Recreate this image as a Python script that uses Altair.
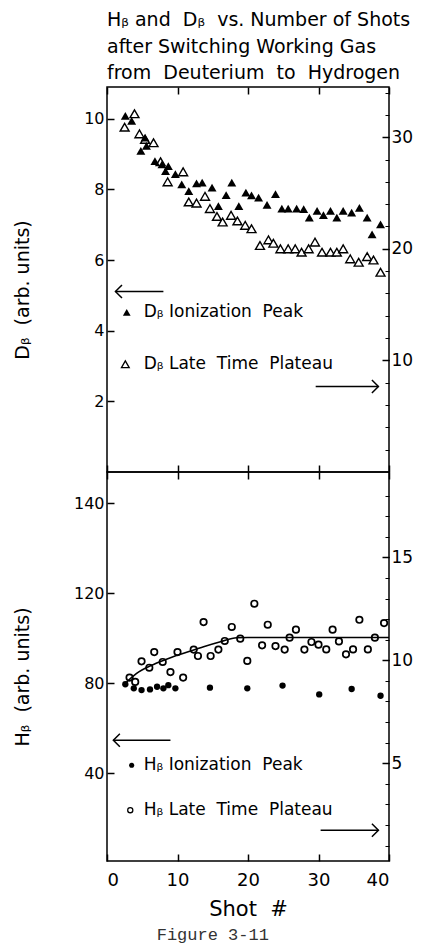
import altair as alt
import pandas as pd

# ---------------- D-beta panel ----------------
# ionization peak (left axis units)
d_peak_shot = [2.6, 3.5, 4.8, 5.4, 5.6, 6.8, 7.8, 8.3, 8.7, 9.7,
               10.6, 11.6, 12.7, 13.5, 14.9, 15.8, 16.9, 17.7, 18.7, 19.7,
               20.5, 21.5, 22.7, 23.9, 24.8, 25.7, 26.9, 27.9, 28.7, 29.8,
               30.7, 31.7, 32.6, 33.5, 34.7, 35.8, 36.9, 37.6, 38.8]
d_peak_val = [10.08, 9.94, 9.09, 9.47, 9.23, 8.80, 8.71, 8.52, 8.66, 8.43,
              8.14, 7.95, 8.17, 8.19, 8.05, 7.53, 7.84, 8.19, 7.53, 7.91,
              7.83, 7.77, 7.56, 7.87, 7.46, 7.46, 7.46, 7.44, 7.20, 7.39,
              7.27, 7.39, 7.20, 7.39, 7.34, 7.48, 7.20, 6.73, 7.01]
# late time plateau (right axis units)
d_plat_shot = [2.5, 3.9, 4.6, 5.4, 6.6, 7.6, 8.6, 10.8, 11.6, 12.7,
               13.9, 14.6, 15.6, 16.4, 17.6, 18.5, 19.6, 20.5, 21.7, 22.9,
               23.6, 24.6, 25.7, 26.7, 27.6, 28.6, 29.5, 30.5, 31.7, 32.6,
               33.5, 34.5, 35.7, 36.9, 37.8, 38.8]
d_plat_val = [30.9, 32.1, 30.3, 29.8, 29.5, 27.8, 26.0, 26.9, 24.2, 24.1,
              24.7, 23.6, 22.9, 22.4, 23.0, 22.5, 22.1, 21.8, 20.3, 20.8,
              20.5, 20.0, 20.0, 20.0, 19.7, 20.0, 20.6, 19.7, 19.7, 19.7,
              20.0, 19.1, 18.8, 19.3, 19.0, 17.9]

# ---------------- H-beta panel ----------------
h_peak_shot = [2.6, 3.8, 4.9, 6.1, 7.1, 8.0, 8.7, 9.7, 14.6, 19.9, 24.9, 30.1, 34.7, 38.8]
h_peak_val = [79.6, 77.8, 77.0, 77.3, 78.5, 77.8, 79.2, 77.8, 78.1, 77.8, 79.0, 75.1, 77.5, 74.5]
h_plat_shot = [3.2, 4.0, 4.9, 6.0, 6.7, 7.9, 9.0, 10.0, 10.8, 12.3,
               12.9, 13.7, 14.7, 15.8, 16.7, 17.7, 18.9, 19.9, 20.9, 22.0,
               22.8, 23.9, 25.2, 25.9, 26.8, 28.0, 29.0, 30.0, 31.1, 32.0,
               32.9, 33.9, 34.9, 35.8, 37.0, 38.0, 39.3]
h_plat_val = [9.16, 8.95, 9.95, 9.64, 10.40, 9.92, 9.43, 10.40, 9.16, 10.52,
              10.21, 11.86, 10.21, 10.52, 10.94, 11.62, 11.05, 9.97, 12.75, 10.73,
              11.73, 10.69, 10.52, 11.10, 11.49, 10.52, 10.89, 10.76, 10.53, 11.49,
              10.92, 10.29, 10.53, 11.97, 10.53, 11.10, 11.81]
# hand-drawn trend through the plateau points (left axis units)
h_fit_shot = [2.6, 4.2, 6.6, 9.0, 11.3, 13.7, 16.1, 18.4, 20.0, 40.0]
h_fit_val = [80.0, 84.4, 88.4, 91.4, 93.8, 96.3, 98.5, 100.3, 100.4, 100.4]

# axis ticks
x_ticks = [0, 10, 20, 30, 40]
d_left_ticks = [2, 4, 6, 8, 10]
d_right_ticks = [10, 20, 30]
d_right_minor = list(range(2, 35, 2))
h_left_ticks = [40, 80, 120, 160]
h_right_ticks = [5, 10, 15]
h_right_minor = list(range(1, 19))

FONT = "DejaVu Sans"
INK = "black"
SP = "\u00a0"   # hard space, kept by SVG text
PLOT_W = 282
TOP_H = 385
BOT_H = 389

D_LEFT = [0, 10.9]
D_RIGHT = [0, 34.5]
H_LEFT = [1, 174]
H_RIGHT = [0.25, 19.15]


def sc(domain):
    return alt.Scale(domain=domain, nice=False, zero=False)


X_SCALE = sc([0, 40])


def frame_x_axis(orient, labelled=False):
    kw = dict(orient=orient, values=x_ticks, offset=-7, tickSize=7, tickWidth=1.5,
              tickColor=INK, domain=False, grid=False, labels=labelled)
    if labelled:
        kw.update(labelFont=FONT, labelFontSize=18, labelColor=INK, labelPadding=10,
                  title="Shot" + SP * 2 + "#", titleFont=FONT, titleFontSize=21,
                  titleFontWeight="normal", titleColor=INK, titlePadding=9)
    else:
        kw.update(title=None)
    return alt.Axis(**kw)


def left_axis(values, title, h, expr=None):
    kw = dict(orient="left", values=values, offset=-7, tickSize=7, tickWidth=1.5,
              tickColor=INK, domain=False, grid=False, labelFont=FONT,
              labelFontSize=16, labelColor=INK, labelPadding=3,
              title=title, titleFont=FONT, titleFontSize=19,
              titleFontWeight="normal", titleColor=INK,
              titleX=-82, titleY=h / 2 + 10)
    if expr:
        kw["labelExpr"] = expr
    return alt.Axis(**kw)


def right_axis(values):
    return alt.Axis(orient="right", values=values, offset=-7, tickSize=7,
                    tickWidth=1.5, tickColor=INK, domain=False, grid=False,
                    labelFont=FONT, labelFontSize=17, labelColor=INK,
                    labelPadding=2, title=None)


def minor_axis(values):
    return alt.Axis(orient="right", values=values, offset=-4, tickSize=4,
                    tickWidth=1, tickColor=INK, domain=False, grid=False,
                    labels=False, title=None)


def arrow_layers(df, dom):
    y = alt.Y("y:Q", scale=sc(dom), axis=None)
    shaft = alt.Chart(df).mark_rule(color=INK, strokeWidth=1.5).encode(
        x=alt.X("x0:Q", scale=X_SCALE, axis=None), x2="x1:Q", y=y)
    head = alt.Chart(df).mark_point(filled=False, color=INK, strokeWidth=1.5,
                                    size=170, opacity=1).encode(
        x=alt.X("x0:Q", scale=X_SCALE, axis=None), y=y,
        shape=alt.Shape("head:N", scale=None))
    return [shaft, head]


def legend_layers(df, dom):
    y = alt.Y("y:Q", scale=sc(dom), axis=None)
    text = alt.Chart(df).mark_text(align="left", baseline="middle", font=FONT,
                                   fontSize=17, color=INK).encode(
        x=alt.X("tx:Q", scale=X_SCALE, axis=None), y=y, text="label:N")
    return [text]


def spaced(*words):
    return (SP * 2).join(words)


# ---------------- top panel ----------------
d_peak = pd.DataFrame({"shot": d_peak_shot, "val": d_peak_val})
d_plat = pd.DataFrame({"shot": d_plat_shot, "val": d_plat_val})

top_plat = alt.Chart(d_plat).mark_point(
    shape="triangle-up", filled=True, fill="white", stroke=INK, strokeWidth=1.4,
    size=80, opacity=1).encode(
    x=alt.X("shot:Q", scale=X_SCALE, axis=frame_x_axis("bottom")),
    y=alt.Y("val:Q", scale=sc(D_RIGHT), axis=right_axis(d_right_ticks)))
top_peak = alt.Chart(d_peak).mark_point(
    shape="triangle-up", filled=True, color=INK, size=80, opacity=1).encode(
    x=alt.X("shot:Q", scale=X_SCALE, axis=frame_x_axis("top")),
    y=alt.Y("val:Q", scale=sc(D_LEFT),
            axis=left_axis(d_left_ticks, spaced("Dᵦ", "(arb. units)"), TOP_H)))
top_minor = alt.Chart(d_plat).mark_point(opacity=0).encode(
    x=alt.X("shot:Q", scale=X_SCALE, axis=None),
    y=alt.Y("val:Q", scale=sc(D_RIGHT), axis=minor_axis(d_right_minor)))

top_arrows = pd.DataFrame({"x0": [1.2, 38.5], "x1": [8.0, 29.6], "y": [5.11, 2.42],
                           "head": ["M1,-1L0,0L1,1", "M-1,-1L0,0L-1,1"]})
top_legend = pd.DataFrame({"tx": [5.2, 5.2], "y": [4.52, 3.05],
                           "label": ["Dᵦ" + SP + spaced("Ionization", "Peak"),
                                     "Dᵦ" + SP + spaced("Late", "Time", "Plateau")]})
top_sym_fill = alt.Chart(pd.DataFrame({"x": [2.8], "y": [4.52]})).mark_point(
    shape="triangle-up", filled=True, color=INK, size=60, opacity=1).encode(
    x=alt.X("x:Q", scale=X_SCALE, axis=None), y=alt.Y("y:Q", scale=sc(D_LEFT), axis=None))
top_sym_open = alt.Chart(pd.DataFrame({"x": [2.6], "y": [3.05]})).mark_point(
    shape="triangle-up", filled=False, color=INK, strokeWidth=1.3, size=60, opacity=1).encode(
    x=alt.X("x:Q", scale=X_SCALE, axis=None), y=alt.Y("y:Q", scale=sc(D_LEFT), axis=None))

top = alt.layer(
    top_plat, top_peak, top_minor,
    *arrow_layers(top_arrows, D_LEFT), *legend_layers(top_legend, D_LEFT),
    top_sym_fill, top_sym_open,
).resolve_scale(y="independent").properties(
    width=PLOT_W, height=TOP_H,
    title=alt.TitleParams(
        text=["Hᵦ and" + SP * 2 + "Dᵦ" + SP * 2 + "vs. Number of Shots",
              "after Switching Working Gas",
              spaced("from", "Deuterium", "to", "Hydrogen")],
        anchor="start", frame="group", font=FONT, fontSize=19, fontWeight="normal",
        color=INK, lineHeight=26.5, offset=3))

# ---------------- bottom panel ----------------
h_peak = pd.DataFrame({"shot": h_peak_shot, "val": h_peak_val})
h_plat = pd.DataFrame({"shot": h_plat_shot, "val": h_plat_val})
h_fit = pd.DataFrame({"shot": h_fit_shot, "val": h_fit_val})

bot_peak = alt.Chart(h_peak).mark_point(
    shape="circle", filled=True, color=INK, size=40, opacity=1).encode(
    x=alt.X("shot:Q", scale=X_SCALE, axis=frame_x_axis("top")),
    y=alt.Y("val:Q", scale=sc(H_LEFT),
            axis=left_axis(h_left_ticks, spaced("Hᵦ", "(arb. units)"), BOT_H,
                           "datum.value == 160 ? '140' : datum.label")))
bot_plat = alt.Chart(h_plat).mark_point(
    shape="circle", filled=False, color=INK, strokeWidth=1.7, size=42, opacity=1).encode(
    x=alt.X("shot:Q", scale=X_SCALE, axis=frame_x_axis("bottom", labelled=True)),
    y=alt.Y("val:Q", scale=sc(H_RIGHT), axis=right_axis(h_right_ticks)))
bot_minor = alt.Chart(h_plat).mark_point(opacity=0).encode(
    x=alt.X("shot:Q", scale=X_SCALE, axis=None),
    y=alt.Y("val:Q", scale=sc(H_RIGHT), axis=minor_axis(h_right_minor)))
bot_fit = alt.Chart(h_fit).mark_line(color=INK, strokeWidth=1.6,
                                     interpolate="monotone").encode(
    x=alt.X("shot:Q", scale=X_SCALE, axis=None),
    y=alt.Y("val:Q", scale=sc(H_LEFT), axis=None))

bot_arrows = pd.DataFrame({"x0": [0.9, 38.5], "x1": [9.0, 30.3], "y": [54.7, 14.7],
                           "head": ["M1,-1L0,0L1,1", "M-1,-1L0,0L-1,1"]})
bot_legend = pd.DataFrame({"tx": [5.2, 5.2], "y": [43.6, 23.6],
                           "label": ["Hᵦ" + SP + spaced("Ionization", "Peak"),
                                     "Hᵦ" + SP + spaced("Late", "Time", "Plateau")]})
bot_sym_fill = alt.Chart(pd.DataFrame({"x": [3.5], "y": [43.6]})).mark_point(
    shape="circle", filled=True, color=INK, size=26, opacity=1).encode(
    x=alt.X("x:Q", scale=X_SCALE, axis=None), y=alt.Y("y:Q", scale=sc(H_LEFT), axis=None))
bot_sym_open = alt.Chart(pd.DataFrame({"x": [3.3], "y": [23.6]})).mark_point(
    shape="circle", filled=False, color=INK, strokeWidth=1.3, size=26, opacity=1).encode(
    x=alt.X("x:Q", scale=X_SCALE, axis=None), y=alt.Y("y:Q", scale=sc(H_LEFT), axis=None))

bottom = alt.layer(
    bot_fit, bot_plat, bot_peak, bot_minor,
    *arrow_layers(bot_arrows, H_LEFT), *legend_layers(bot_legend, H_LEFT),
    bot_sym_fill, bot_sym_open,
).resolve_scale(y="independent").properties(width=PLOT_W, height=BOT_H)

chart = alt.vconcat(top, bottom, spacing=0, bounds="flush").properties(
    padding={"left": 12, "top": 10, "right": 5, "bottom": 4},
    background="white",
    title=alt.TitleParams(text="Figure 3-11", orient="bottom", anchor="middle",
                          font="Liberation Mono", fontSize=17, fontWeight="normal",
                          color="#333333", offset=7),
).configure_view(stroke=INK, strokeWidth=1.5)

chart.save("out.html", embed_options={"renderer": "svg", "actions": False})
